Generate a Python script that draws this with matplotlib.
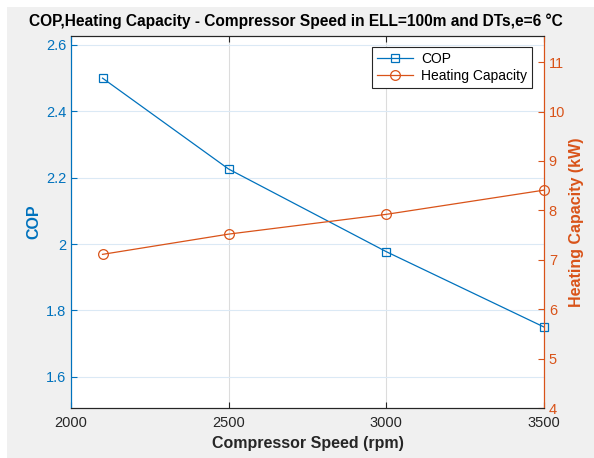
import matplotlib.pyplot as plt
from matplotlib.patches import Rectangle

plt.rcParams['font.family'] = ['Liberation Sans', 'DejaVu Sans']

# data
speed = [2100, 2500, 3000, 3500]
cop = [2.50, 2.226, 1.977, 1.75]
heating = [7.11, 7.52, 7.92, 8.41]

blue = '#0072BD'
orange = '#D95319'
dark = '#262626'

fig = plt.figure(figsize=(5.94, 4.58), dpi=100, facecolor='white')
# grey MATLAB-ish backdrop, leaving the thin white strip top/left
fig.patches.append(Rectangle((7 / 594, 0), 1, 1 - 7 / 458, transform=fig.transFigure,
                             facecolor='#f0f0f0', edgecolor='none', zorder=-10))

ax = fig.add_axes([71 / 594, 50 / 458, 473 / 594, 372 / 458])
ax2 = ax.twinx()

l1, = ax.plot(speed, cop, '-s', color=blue, lw=0.9, ms=6, mfc='none', mew=0.9,
              label='COP', clip_on=False, zorder=3)
l2, = ax2.plot(speed, heating, '-o', color=orange, lw=0.9, ms=7, mfc='none', mew=0.9,
               label='Heating Capacity', clip_on=False, zorder=3)

ax.set_xlim(2000, 3500)
ax.set_ylim(1.506, 2.627)
ax2.set_ylim(4, 11.53)
ax.set_xticks([2000, 2500, 3000, 3500])
ax.set_yticks([1.6, 1.8, 2.0, 2.2, 2.4, 2.6])
ax.set_yticklabels(['1.6', '1.8', '2', '2.2', '2.4', '2.6'])
ax2.set_yticks(range(4, 12))

# grid: light grey verticals, light blue horizontals
ax.xaxis.grid(True, color='#dcdcdc', lw=0.8)
ax.yaxis.grid(True, color='#dbe9f5', lw=0.8)
ax.set_axisbelow(True)

ax.tick_params(axis='x', direction='in', top=True, colors=dark, labelsize=10.5, length=4, pad=6)
ax.tick_params(axis='y', direction='in', colors=blue, labelsize=10.5, length=4)
ax2.tick_params(axis='y', direction='in', colors=orange, labelsize=10.5, length=4)

for a in (ax, ax2):
    a.spines['top'].set_color(dark)
    a.spines['bottom'].set_color(dark)
    a.spines['left'].set_color(blue)
    a.spines['right'].set_color(orange)
    for s in a.spines.values():
        s.set_linewidth(0.8)

ax.set_xlabel('Compressor Speed (rpm)', fontsize=11.5, fontweight='bold', color=dark)
ax.set_ylabel('COP', fontsize=11.5, fontweight='bold', color=blue, labelpad=3)
ax2.set_ylabel('Heating Capacity (kW)', fontsize=11.5, fontweight='bold', color=orange, labelpad=3)
fig.text(296 / 594, 1 - 26 / 458,
         'COP,Heating Capacity - Compressor Speed in ELL=100m and DTs,e=6 \u00b0C',
         ha='center', va='baseline', fontsize=11.2, fontweight='bold', color='black')

leg = ax2.legend(handles=[l1, l2], loc='upper right', bbox_to_anchor=(0.99, 0.99),
                 fancybox=False, framealpha=1, edgecolor=dark, fontsize=10,
                 handlelength=2.6, borderpad=0.35, labelspacing=0.25, handletextpad=0.6)
leg.get_frame().set_linewidth(0.8)

fig.savefig('out.png', dpi=100, facecolor=fig.get_facecolor())
